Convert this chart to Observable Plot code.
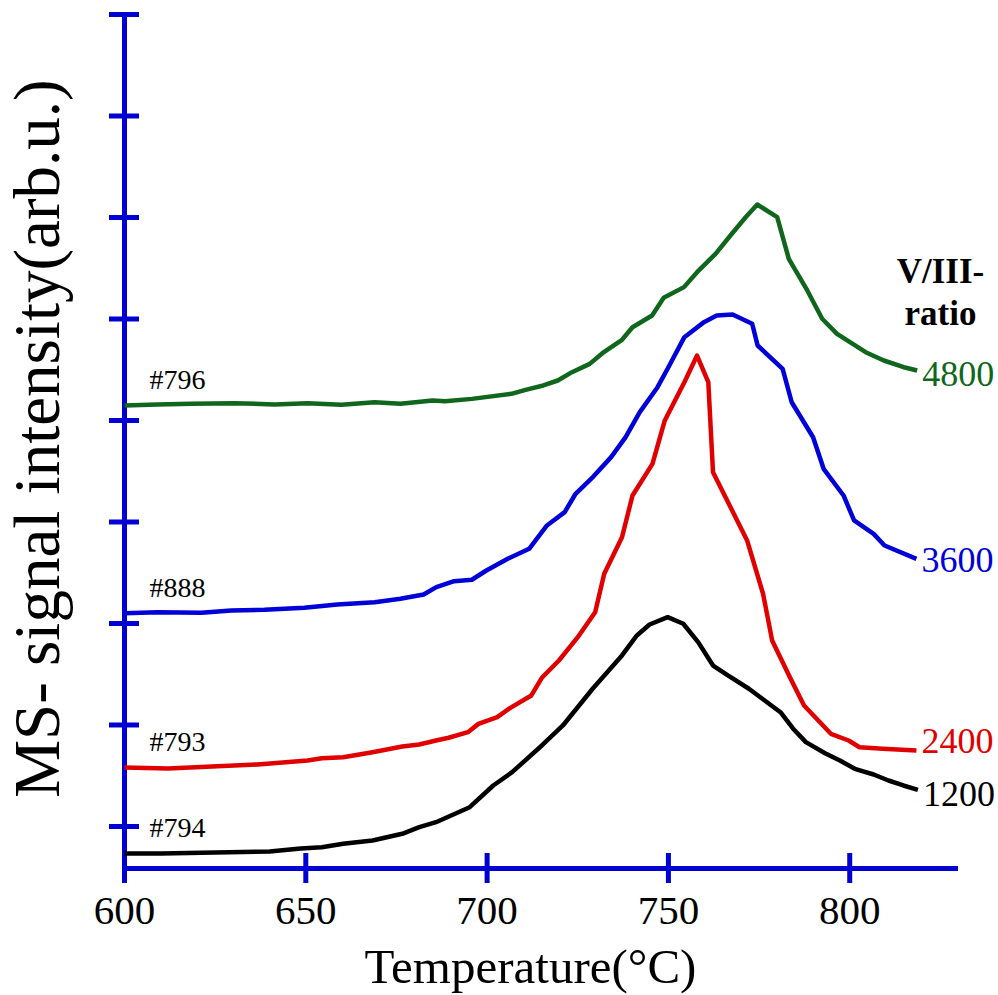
<!DOCTYPE html>
<html><head><meta charset="utf-8">
<script src="https://cdn.jsdelivr.net/npm/d3@7"></script>
<script src="https://cdn.jsdelivr.net/npm/@observablehq/plot@0.6"></script>
<style>
body{margin:0;background:#fff}
#chart svg{font-family:"Liberation Serif","Times New Roman",serif;background:#fff}
</style>
</head><body><div id="chart"></div>
<script>
// Tick values
const xTicks = [600, 650, 700, 750, 800];
const yTicks = [1, 2, 3, 4, 5, 6, 7, 8, 9];
const xDomain = [600, 830];
const yDomain = [0.586, 9];

// Series: V/III ratio, sample id
const ratios = ["1200", "2400", "3600", "4800"];
const samples = ["#794", "#793", "#888", "#796"];

// 1200 (#794)
const t1200 = [600, 610, 625, 640, 648.6, 654.4, 660.3, 668.4, 676.6, 681.3, 685.9, 695.2, 701.7, 706.9, 715.1, 720.9, 729.1, 737.2, 741.3, 744.8, 749.8, 754.1, 758.2, 762.3, 766.4, 772.2, 780.9, 784.4, 787.9, 793.2, 797.3, 801.4, 806.6, 810.7, 814.8, 818.8];
const i1200 = [0.734, 0.734, 0.744, 0.754, 0.783, 0.796, 0.829, 0.862, 0.928, 0.993, 1.042, 1.190, 1.404, 1.535, 1.798, 1.995, 2.357, 2.685, 2.882, 2.990, 3.062, 2.997, 2.816, 2.586, 2.488, 2.357, 2.126, 1.963, 1.831, 1.722, 1.650, 1.568, 1.512, 1.453, 1.404, 1.361];

// 2400 (#793)
const t2400 = [600, 612, 636.7, 650.5, 654.4, 660.3, 668.4, 676.6, 681.3, 685.9, 689.4, 694.7, 697.6, 702.8, 706.4, 712.2, 715.1, 719.8, 725.0, 729.8, 732.3, 737.2, 740.1, 745.6, 749.0, 754.4, 757.9, 761.0, 762.3, 766.2, 771.7, 776.1, 778.6, 783.5, 787.4, 794.8, 799.7, 802.7, 809.1, 818.4];
const i2400 = [1.581, 1.571, 1.611, 1.650, 1.673, 1.683, 1.732, 1.788, 1.808, 1.847, 1.874, 1.929, 2.011, 2.077, 2.169, 2.291, 2.465, 2.635, 2.865, 3.111, 3.489, 3.850, 4.261, 4.573, 5.000, 5.377, 5.640, 5.377, 4.490, 4.212, 3.818, 3.293, 2.833, 2.471, 2.192, 1.913, 1.847, 1.781, 1.765, 1.749];

// 3600 (#888)
const t3600 = [600, 609.1, 621.2, 629.5, 638.6, 649.6, 658.7, 669, 676.1, 682.5, 686.0, 690.9, 695.8, 699.8, 705.7, 711.6, 716.5, 721.4, 724.4, 729.3, 734.2, 738.2, 742.1, 747.0, 750.0, 754.4, 759.8, 763.3, 767.7, 773.1, 774.6, 781.5, 784.0, 789.9, 792.8, 798.3, 801.2, 806.6, 809.6, 818.4];
const i3600 = [3.101, 3.111, 3.105, 3.128, 3.135, 3.155, 3.187, 3.210, 3.243, 3.286, 3.358, 3.417, 3.431, 3.522, 3.637, 3.736, 3.966, 4.097, 4.278, 4.448, 4.639, 4.836, 5.082, 5.328, 5.525, 5.821, 5.969, 6.034, 6.044, 5.953, 5.739, 5.509, 5.180, 4.835, 4.524, 4.261, 4.015, 3.883, 3.768, 3.637];

// 4800 (#796)
const t4800 = [600, 609, 618.5, 630.3, 641.4, 650.5, 659.8, 669, 676.1, 685.0, 688.4, 695.8, 706.7, 710.6, 715.5, 719.5, 723.4, 728.3, 731.8, 737.2, 740.1, 745.5, 748.7, 754.3, 757.9, 763.0, 767.1, 771.3, 774.5, 780.0, 783.2, 788.3, 792.4, 796.5, 804.4, 809.4, 814.9, 818.6];
const i4800 = [5.148, 5.158, 5.165, 5.171, 5.158, 5.171, 5.155, 5.180, 5.165, 5.197, 5.190, 5.213, 5.263, 5.302, 5.345, 5.394, 5.476, 5.558, 5.663, 5.795, 5.919, 6.034, 6.209, 6.314, 6.461, 6.642, 6.823, 7.003, 7.128, 7.003, 6.593, 6.281, 6.002, 5.854, 5.673, 5.591, 5.525, 5.493];

const temps = [t1200, t2400, t3600, t4800];
const intens = [i1200, i2400, i3600, i4800];

// styles
const axisColor = "#0000d2";
const colors = ["#000000", "#e00000", "#0000d8", "#0f661c"];
const ratioLabelDy = [5, -9, 2, 4];
const FONT = "Liberation Serif";

const series = ratios.map((r, k) => ({
  ratio: r, sample: samples[k],
  rows: temps[k].map((t, j) => ({T: t, I: intens[k][j]}))
}));

const marks = [];
// axis lines
marks.push(Plot.ruleY([yDomain[0]], {stroke: axisColor, strokeWidth: 5}));
marks.push(Plot.ruleX([xDomain[0]], {stroke: axisColor, strokeWidth: 5}));
// crossing ticks
marks.push(Plot.ruleX(xTicks, {x: d => d, y1: () => yDomain[0], y2: () => yDomain[0], insetTop: -15, insetBottom: -15, stroke: axisColor, strokeWidth: 5}));
marks.push(Plot.ruleY(yTicks, {y: d => d, x1: () => xDomain[0], x2: () => xDomain[0], insetLeft: -15, insetRight: -15, stroke: axisColor, strokeWidth: 5}));
// tick labels
marks.push(Plot.text(xTicks, {x: d => d, y: () => yDomain[0], text: d => String(d), dy: 42, fontSize: 41, fill: "#000", fontFamily: FONT}));

// curves
series.forEach((s, k) => {
  marks.push(Plot.line(s.rows, {x: "T", y: "I", stroke: colors[k], strokeWidth: 4.5, strokeLinejoin: "round", strokeLinecap: "butt"}));
  const first = s.rows[0], last = s.rows[s.rows.length - 1];
  marks.push(Plot.text([first], {x: "T", y: "I", text: () => s.sample, dx: 25, dy: -25, textAnchor: "start", fontSize: 28, fill: "#000", fontFamily: FONT}));
  marks.push(Plot.text([last], {x: "T", y: "I", text: () => s.ratio, dx: 5, dy: ratioLabelDy[k], textAnchor: "start", fontSize: 36, fill: colors[k], fontFamily: FONT}));
});

// legend title
marks.push(Plot.text(["V/III-\nratio"], {frameAnchor: "top-right", textAnchor: "middle", dx: -18, dy: 276, lineAnchor: "middle", lineHeight: 1.2, fontSize: 35, fontWeight: "bold", fill: "#000", fontFamily: FONT}));
// axis titles
marks.push(Plot.text(["Temperature(°C)"], {frameAnchor: "bottom", textAnchor: "middle", dx: -11, dy: 114, fontSize: 49, fill: "#000", fontFamily: FONT}));
marks.push(Plot.text(["MS- signal intensity(arb.u.)"], {frameAnchor: "left", textAnchor: "middle", rotate: -90, dx: -86, dy: -3, fontSize: 65, fill: "#000", fontFamily: FONT}));

const chart = Plot.plot({
  width: 998, height: 995,
  marginLeft: 124, marginRight: 40, marginTop: 14, marginBottom: 127,
  x: {domain: xDomain, axis: null},
  y: {domain: yDomain, axis: null},
  style: {background: "#fff", fontFamily: FONT, overflow: "visible"},
  marks
});
document.getElementById("chart").appendChild(chart);
</script>
</body></html>
